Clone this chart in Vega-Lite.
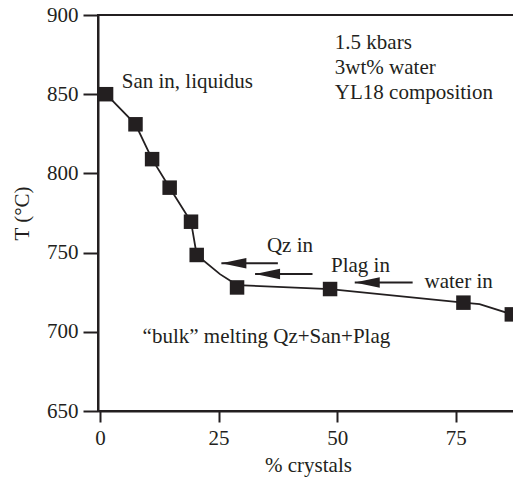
{
  "$schema": "https://vega.github.io/schema/vega-lite/v6.json",
  "autosize": "none",
  "padding": {"left": 98, "top": 15, "right": 0, "bottom": 68},
  "width": 420,
  "height": 396,
  "background": "white",
  "config": {
    "font": "Liberation Serif",
    "view": {"stroke": "#231f20", "strokeWidth": 2},
    "axis": {
      "domainColor": "#231f20", "domainWidth": 2,
      "tickColor": "#231f20", "tickWidth": 2,
      "labelFont": "Liberation Serif", "labelFontSize": 21, "labelColor": "#231f20",
      "titleFont": "Liberation Serif", "titleFontSize": 21, "titleFontWeight": "normal", "titleColor": "#231f20",
      "grid": false
    }
  },
  "datasets": {
    "pts": [
      {"c": 1.3, "t": 850}, {"c": 7.5, "t": 831}, {"c": 11.0, "t": 809}, {"c": 14.7, "t": 791},
      {"c": 19.2, "t": 769.5}, {"c": 20.4, "t": 748.5}, {"c": 28.9, "t": 728}, {"c": 48.5, "t": 727},
      {"c": 76.6, "t": 718.4}, {"c": 86.8, "t": 711}
    ],
    "curve": [
      {"c": 1.3, "t": 850}, {"c": 7.5, "t": 831}, {"c": 11.0, "t": 809}, {"c": 14.7, "t": 791},
      {"c": 19.2, "t": 769.5}, {"c": 20.4, "t": 748.5}, {"c": 25.3, "t": 736.4}, {"c": 28.9, "t": 729.5},
      {"c": 48.5, "t": 727}, {"c": 76.6, "t": 718.4}, {"c": 80.0, "t": 717.5}, {"c": 86.8, "t": 711}
    ],
    "arrows": [
      {"tip": 25.6, "end": 37.5, "t": 743.2},
      {"tip": 32.7, "end": 44.8, "t": 736.5},
      {"tip": 53.7, "end": 65.9, "t": 731.2}
    ],
    "labels": [
      {"c": 4.6, "t": 857.7, "txt": "San in, liquidus"},
      {"c": 49.5, "t": 882.5, "txt": "1.5 kbars"},
      {"c": 49.5, "t": 866.7, "txt": "3wt% water"},
      {"c": 49.5, "t": 850.6, "txt": "YL18 composition"},
      {"c": 35.2, "t": 754.4, "txt": "Qz in"},
      {"c": 48.7, "t": 741.5, "txt": "Plag in"},
      {"c": 68.4, "t": 731.6, "txt": "water in"},
      {"c": 9.0, "t": 696.7, "txt": "“bulk” melting Qz+San+Plag"}
    ]
  },
  "layer": [
    {
      "data": {"name": "curve"},
      "mark": {"type": "line", "color": "#231f20", "strokeWidth": 1.8},
      "encoding": {
        "x": {"field": "c", "type": "quantitative", "scale": {"domain": [-0.4, 88.1], "nice": false, "zero": false},
              "axis": {"values": [0, 25, 50, 75], "title": "% crystals", "tickSize": 11, "labelPadding": 5, "titlePadding": 6}},
        "y": {"field": "t", "type": "quantitative", "scale": {"domain": [650, 900], "nice": false, "zero": false},
              "axis": {"values": [650, 700, 750, 800, 850, 900], "title": "T (°C)", "tickSize": 15, "labelPadding": 5, "titlePadding": 14}},
        "order": {"field": "c", "type": "quantitative"}
      }
    },
    {
      "data": {"name": "pts"},
      "mark": {"type": "point", "shape": "square", "filled": true, "opacity": 1, "color": "#231f20", "size": 210},
      "encoding": {
        "x": {"field": "c", "type": "quantitative"},
        "y": {"field": "t", "type": "quantitative"}
      }
    },
    {
      "data": {"name": "arrows"},
      "mark": {"type": "rule", "color": "#231f20", "strokeWidth": 2},
      "encoding": {
        "x": {"field": "tip", "type": "quantitative"},
        "x2": {"field": "end"},
        "y": {"field": "t", "type": "quantitative"}
      }
    },
    {
      "data": {"name": "arrows"},
      "mark": {"type": "point", "shape": "M0,0L2,-0.42L2,0.42Z", "filled": true, "opacity": 1, "color": "#231f20", "size": 625},
      "encoding": {
        "x": {"field": "tip", "type": "quantitative"},
        "y": {"field": "t", "type": "quantitative"}
      }
    },
    {
      "data": {"name": "labels"},
      "mark": {"type": "text", "align": "left", "baseline": "middle", "font": "Liberation Serif", "fontSize": 21, "color": "#231f20"},
      "encoding": {
        "x": {"field": "c", "type": "quantitative"},
        "y": {"field": "t", "type": "quantitative"},
        "text": {"field": "txt"}
      }
    }
  ]
}
